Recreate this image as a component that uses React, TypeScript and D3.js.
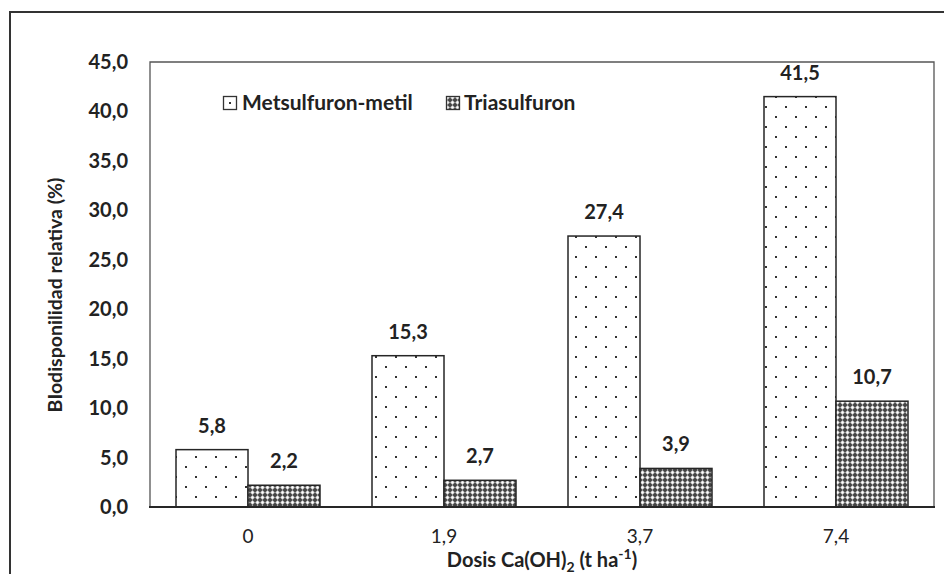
import React from "react";
import * as d3 from "d3";

const categories = ["0", "1,9", "3,7", "7,4"];
const seriesNames = ["Metsulfuron-metil", "Triasulfuron"];
const metsulfuron = [5.8, 15.3, 27.4, 41.5];
const triasulfuron = [2.2, 2.7, 3.9, 10.7];
const yTicks = [0, 5, 10, 15, 20, 25, 30, 35, 40, 45];

const W = 944;
const H = 574;
const FONT = "Lato, 'Open Sans', sans-serif";

export default function App() {
  const left = 150, right = 934, top = 62, bottom = 507;
  const x = d3.scaleBand<string>().domain(categories).range([left, right]).paddingInner(0).paddingOuter(0);
  const inner = d3.scaleBand<number>().domain([0, 1]).range([0, 144]);
  const y = d3.scaleLinear().domain([0, 45]).range([bottom, top]);
  const fmt = (v: number) => v.toFixed(1).replace(".", ",");
  const series = [metsulfuron, triasulfuron];
  const fills = ["url(#dots)", "url(#checker)"];

  return (
    <svg width={W} height={H} style={{ position: "absolute", left: 0, top: 0 }}>
      <defs>
        <pattern id="dots" patternUnits="userSpaceOnUse" width={20} height={20} x={185} y={446}>
          <rect width={20} height={20} fill="#fff" />
          <rect x={0} y={0} width={2} height={2} fill="#333" />
          <rect x={10} y={10} width={2} height={2} fill="#333" />
        </pattern>
        <pattern id="dotsLegend" patternUnits="userSpaceOnUse" width={20} height={20} x={229} y={102}>
          <rect width={20} height={20} fill="#fff" />
          <rect x={0} y={0} width={2} height={2} fill="#333" />
        </pattern>
        <pattern id="checker" patternUnits="userSpaceOnUse" width={5} height={5}>
          <rect width={5} height={5} fill="#444" />
          <path d="M2.5,0.1 L4.9,2.5 L2.5,4.9 L0.1,2.5 Z" fill="#c4c4c4" />
          <path d="M2.5,1.1 L3.9,2.5 L2.5,3.9 L1.1,2.5 Z" fill="#fff" />
        </pattern>
      </defs>
      <rect x={10} y={12} width={1000} height={700} fill="#fff" stroke="#333" strokeWidth={2} />

      {/* plot frame */}
      <path d={`M${left},${bottom} V${top} H${right} V${bottom}`} fill="none" stroke="#555" strokeWidth={1.3} />

      {/* y tick labels */}
      {yTicks.map((t) => (
        <text key={t} x={128} y={y(t)} dy="0.35em" textAnchor="end" fontFamily={FONT} fontWeight="bold" fontSize={20} fill="#222">
          {fmt(t)}
        </text>
      ))}

      {/* bars */}
      {categories.map((c, i) => {
        const gx = (x(c) as number) + (x.bandwidth() - 144) / 2;
        return (
          <g key={c}>
            {series.map((s, j) => (
              <rect
                key={j}
                x={gx + (inner(j) as number)}
                y={y(s[i])}
                width={inner.bandwidth()}
                height={bottom - y(s[i])}
                fill={fills[j]}
                stroke="#262626"
                strokeWidth={1.5}
              />
            ))}
            {series.map((s, j) => (
              <text
                key={"l" + j}
                x={gx + (inner(j) as number) + inner.bandwidth() / 2}
                y={y(s[i]) - 17}
                textAnchor="middle"
                fontFamily={FONT}
                fontWeight="bold"
                fontSize={20}
                fill="#222"
              >
                {fmt(s[i])}
              </text>
            ))}
            <text x={(x(c) as number) + x.bandwidth() / 2} y={543} textAnchor="middle" fontFamily={FONT} fontSize={19} fill="#222">
              {c}
            </text>
          </g>
        );
      })}

      {/* x axis line */}
      <line x1={left - 1} x2={right + 1} y1={bottom} y2={bottom} stroke="#262626" strokeWidth={2} />

      {/* legend */}
      <g fontFamily={FONT} fontWeight="bold" fontSize={21} fill="#222">
        <rect x={223.5} y={96.5} width={13} height={13} fill="url(#dotsLegend)" stroke="#333" strokeWidth={1.3} />
        <text x={242} y={110}>{seriesNames[0]}</text>
        <rect x={446.5} y={96.5} width={13} height={13} fill="url(#checker)" stroke="#333" strokeWidth={1.3} />
        <text x={464} y={110}>{seriesNames[1]}</text>
      </g>

      {/* axis titles */}
      <text x={542} y={567} textAnchor="middle" fontFamily={FONT} fontWeight="bold" fontSize={20} fill="#222">
        Dosis Ca(OH)
        <tspan dy={5} fontSize={14}>2</tspan>
        <tspan dy={-5}> (t ha</tspan>
        <tspan dy={-8} fontSize={14}>-1</tspan>
        <tspan dy={8}>)</tspan>
      </text>
      <text
        transform={`translate(62,295) rotate(-90)`}
        textAnchor="middle"
        fontFamily={FONT}
        fontWeight="bold"
        fontSize={19.5}
        fill="#222"
      >
        BIodisponilidad relativa (%)
      </text>
    </svg>
  );
}
